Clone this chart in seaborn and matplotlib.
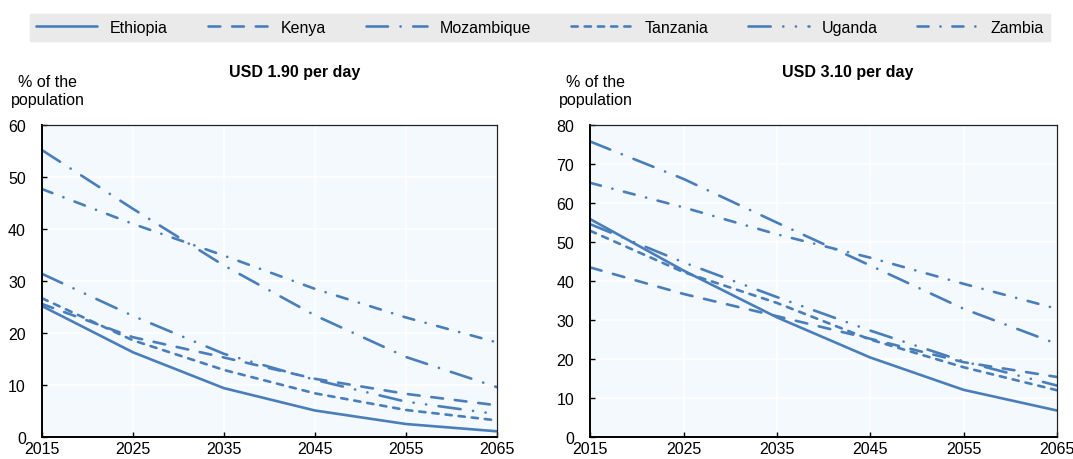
import matplotlib
matplotlib.use("Agg")
import matplotlib.pyplot as plt
import numpy as np
import pandas as pd
import seaborn as sns

years = [2015, 2025, 2035, 2045, 2055, 2065]
countries = ["Ethiopia", "Kenya", "Mozambique", "Tanzania", "Uganda", "Zambia"]

# USD 1.90 per day, % of population
usd190_ethiopia = [25.2, 16.3, 9.4, 5.1, 2.5, 1.1]
usd190_kenya = [25.6, 19.2, 15.3, 11.2, 8.3, 6.1]
usd190_mozambique = [55.2, 43.9, 33.0, 23.4, 15.4, 9.6]
usd190_tanzania = [26.7, 18.6, 12.9, 8.4, 5.2, 3.2]
usd190_uganda = [31.4, 23.3, 16.0, 11.0, 6.8, 4.4]
usd190_zambia = [47.7, 41.0, 34.9, 28.5, 23.0, 18.2]

# USD 3.10 per day, % of population
usd310_ethiopia = [55.9, 42.7, 30.7, 20.4, 12.1, 6.8]
usd310_kenya = [43.5, 36.7, 31.0, 25.2, 19.2, 15.4]
usd310_mozambique = [75.8, 66.2, 55.0, 44.0, 32.9, 23.9]
usd310_tanzania = [52.9, 42.3, 34.4, 25.0, 17.9, 12.0]
usd310_uganda = [54.6, 44.8, 35.9, 27.3, 19.4, 13.2]
usd310_zambia = [65.2, 58.9, 52.0, 46.0, 39.3, 32.9]


def long_table(series):
    rows = []
    for country, vals in zip(countries, series):
        for yr, v in zip(years, vals):
            rows.append({"year": yr, "value": v, "country": country})
    return pd.DataFrame(rows)


df190 = long_table([usd190_ethiopia, usd190_kenya, usd190_mozambique,
                    usd190_tanzania, usd190_uganda, usd190_zambia])
df310 = long_table([usd310_ethiopia, usd310_kenya, usd310_mozambique,
                    usd310_tanzania, usd310_uganda, usd310_zambia])

sns.set_theme(style="white")
plt.rcParams["font.family"] = ["Liberation Sans", "DejaVu Sans"]
plt.rcParams["lines.scale_dashes"] = False
plt.rcParams["text.color"] = "black"
plt.rcParams["xtick.labelcolor"] = "black"
plt.rcParams["ytick.labelcolor"] = "black"

blue = "#4a7ebb"
palette = {c: blue for c in countries}
# dash patterns in points (round caps add a bit to each dash)
dashes = {
    "Ethiopia": "",
    "Kenya": (8.5, 8.5),
    "Mozambique": (15.5, 9, 0.1, 9),
    "Tanzania": (4.5, 5),
    "Uganda": (16, 9, 0.1, 9, 0.1, 9),
    "Zambia": (8, 8.5, 0.1, 8.5),
}
fs = 11.5

fig = plt.figure(figsize=(10.73, 4.6), dpi=100)
ax1 = fig.add_axes([0.0391, 0.0478, 0.424, 0.678])
ax2 = fig.add_axes([0.550, 0.0478, 0.435, 0.678])

panels = [(ax1, df190, "USD 1.90 per day", 60, 0.556),
          (ax2, df310, "USD 3.10 per day", 80, 0.552)]

for i, (ax, df, title, ymax, tx) in enumerate(panels):
    sns.lineplot(data=df, x="year", y="value", hue="country", style="country",
                 palette=palette, dashes=dashes, linewidth=1.9,
                 dash_capstyle="round", legend=(i == 0), ax=ax)
    ax.set_facecolor("#f3f9fc")
    ax.set_xlim(2015, 2065)
    ax.set_ylim(0, ymax)
    ax.set_xticks(years)
    ax.set_yticks(np.arange(0, ymax + 1, 10))
    ax.grid(True, color="white", linewidth=1.2)
    ax.set_axisbelow(True)
    ax.set_xlabel("")
    ax.set_ylabel("")
    for side in ["left", "bottom"]:
        ax.spines[side].set_color("black")
        ax.spines[side].set_linewidth(1.4)
    for side in ["top", "right"]:
        ax.spines[side].set_color("#222222")
        ax.spines[side].set_linewidth(0.9)
    ax.tick_params(direction="in", length=3.5, width=1, color="black",
                   labelsize=fs, labelcolor="black", pad=3, left=True, bottom=True)
    ax.tick_params(axis="y", pad=11.5)
    ax.text(tx, 1.173, title, transform=ax.transAxes, ha="center", va="center",
            fontsize=fs, fontweight="bold", color="black")
    ax.text(0.012, 1.11, "% of the\npopulation", transform=ax.transAxes,
            ha="center", va="center", fontsize=fs, linespacing=1.25, color="black")

leg = ax1.get_legend()
handles = [h for h, t in zip(leg.legend_handles, leg.get_texts()) if t.get_text() in countries]
labels = [t.get_text() for t in leg.get_texts() if t.get_text() in countries]
leg.remove()

fig.legend(handles, labels, ncol=6, loc="center", mode="expand",
           bbox_to_anchor=(0.028, 0.904, 0.951, 0.068), frameon=True,
           fancybox=False, facecolor="#eaeaea", edgecolor="#eaeaea",
           framealpha=1, fontsize=fs, handlelength=3.8, handletextpad=0.8,
           borderaxespad=0, borderpad=0.4, labelcolor="black")

plt.savefig("out.png", dpi=100)
